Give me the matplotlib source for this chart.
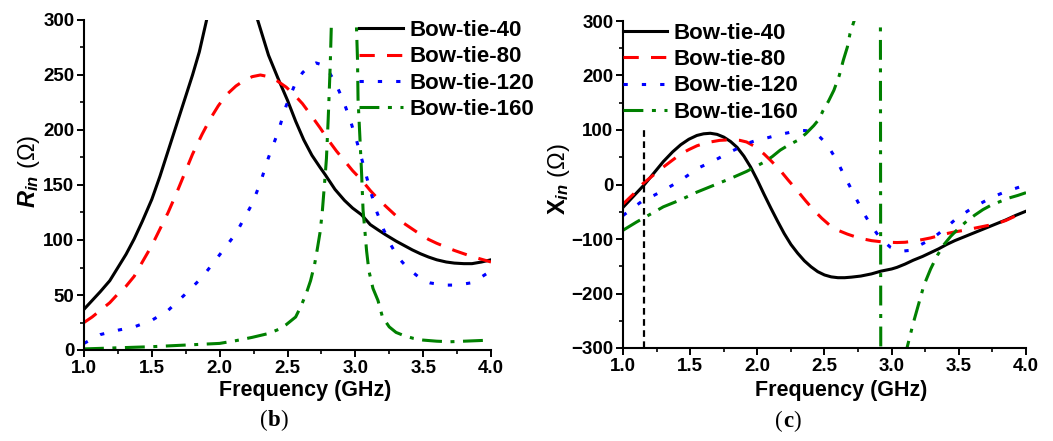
import matplotlib
matplotlib.use('Agg')
import matplotlib.pyplot as plt
from matplotlib.ticker import MultipleLocator
from matplotlib.offsetbox import TextArea, HPacker, AnchoredOffsetbox

plt.rcParams['font.family'] = 'Liberation Sans'
plt.rcParams['font.weight'] = 'bold'
plt.rcParams['axes.labelweight'] = 'bold'
plt.rcParams['mathtext.fontset'] = 'custom'
plt.rcParams['mathtext.rm'] = 'Liberation Sans'
plt.rcParams['mathtext.it'] = 'Liberation Sans:italic'
plt.rcParams['mathtext.bf'] = 'Liberation Sans:bold'
plt.rcParams['mathtext.bfit'] = 'Liberation Sans:italic:bold'

labels = ['Bow-tie-40', 'Bow-tie-80', 'Bow-tie-120', 'Bow-tie-160']

# ---- input resistance (b) ----
rin_f_40 = [1.0, 1.06, 1.12, 1.19, 1.25, 1.31, 1.37, 1.43, 1.5, 1.56, 1.62, 1.68, 1.74, 1.8, 1.85,
            1.9, 1.95, 2.0, 2.05, 2.1, 2.15, 2.2, 2.28, 2.36, 2.43, 2.5, 2.56, 2.62, 2.68, 2.74,
            2.78, 2.85, 2.92, 2.98, 3.045, 3.11, 3.17, 3.22, 3.3, 3.36, 3.42, 3.48, 3.54, 3.6,
            3.67, 3.73, 3.8, 3.86, 3.93, 4.0]
rin_40 = [37, 45, 53, 63, 75, 87, 101, 117, 137, 158, 181, 204, 227, 250, 271,
          298, 326, 352, 365, 367, 358, 334, 300, 268, 247, 227, 208, 191, 177, 166,
          159, 146, 136, 129, 123, 114, 109, 105, 99, 95, 91, 87.5, 84.5, 82,
          80, 79, 78.5, 78.5, 80, 82]

rin_f_80 = [1.0, 1.06, 1.12, 1.19, 1.25, 1.31, 1.37, 1.43, 1.5, 1.56, 1.62, 1.68, 1.74, 1.8, 1.87,
            1.93, 1.99, 2.05, 2.12, 2.18, 2.24, 2.3, 2.36, 2.42, 2.49, 2.55, 2.61, 2.67, 2.74,
            2.8, 2.86, 2.92, 2.98, 3.05, 3.11, 3.17, 3.23, 3.3, 3.36, 3.42, 3.48, 3.54, 3.6,
            3.67, 3.73, 3.8, 3.86, 3.93, 4.0]
rin_80 = [25, 30, 36, 43, 51, 58, 67, 80, 95, 110, 125, 142, 160, 178, 196,
          210, 222, 232, 240, 245, 248.5, 250, 248.5, 245, 239, 232, 224, 214, 202,
          191, 181, 172, 163, 154, 145, 137, 130, 122, 115, 110, 105, 100.5, 97,
          93.5, 90.5, 87.5, 85, 82.5, 80]

rin_f_120 = [1.0, 1.06, 1.12, 1.25, 1.37, 1.5, 1.62, 1.74, 1.87, 1.99, 2.12, 2.24, 2.3, 2.36,
             2.43, 2.49, 2.55, 2.61, 2.66, 2.71, 2.76, 2.81, 2.86, 2.91, 2.96, 3.01, 3.06,
             3.11, 3.16, 3.21, 3.26, 3.31, 3.36, 3.41, 3.46, 3.5, 3.55, 3.6, 3.67, 3.73,
             3.8, 3.85, 3.9, 3.95, 4.0]
rin_120 = [6, 10, 14, 18, 21, 27, 36, 50, 66, 85, 106, 133, 152, 175,
           198, 222, 240, 252, 258, 261, 259, 252, 241, 227, 210, 190, 168,
           145, 125, 109, 96, 85, 78, 72, 67, 63, 61, 60, 59, 59,
           60, 61, 64, 68, 72]

rin_f_160 = [1.0, 1.25, 1.5, 1.75, 2.0, 2.12, 2.24, 2.36, 2.44, 2.49, 2.56, 2.6, 2.64, 2.67,
             2.7, 2.72, 2.74, 2.756, 2.776, 2.787, 2.8, 2.815, 2.824, 2.85, 2.9, 2.95, 2.99,
             3.007, 3.016, 3.02, 3.033, 3.046, 3.057, 3.07, 3.083, 3.1, 3.13, 3.167, 3.2,
             3.25, 3.3, 3.36, 3.43, 3.5, 3.6, 3.7, 3.8, 3.9, 4.0]
rin_160 = [1, 2, 3, 4.5, 6, 8.5, 11.5, 15, 19, 23, 30, 40, 52, 63,
           78, 92, 107, 125, 156, 174, 210, 259, 299, 420, 850, 800, 420,
           299, 264, 228, 195, 161, 127, 109, 90, 72, 56, 45, 30,
           21, 16, 13, 10.5, 9, 8, 7.5, 8, 8.5, 9]

# ---- input reactance (c) ----
xin_f_40 = [1.0, 1.08, 1.16, 1.23, 1.3, 1.37, 1.43, 1.49, 1.55, 1.6, 1.65, 1.7, 1.75, 1.8, 1.85,
            1.9, 1.95, 2.0, 2.05, 2.1, 2.15, 2.2, 2.25, 2.3, 2.35, 2.4, 2.45, 2.5, 2.55, 2.6,
            2.65, 2.7, 2.77, 2.85, 2.92, 3.0, 3.04, 3.1, 3.16, 3.23, 3.29, 3.35, 3.41, 3.47,
            3.54, 3.6, 3.66, 3.72, 3.78, 3.85, 3.92, 4.0]
xin_40 = [-42, -21, 0, 21, 42, 60, 73, 83, 90, 93, 94, 92, 87, 79, 68,
          52, 32, 8, -18, -43, -67, -90, -110, -126, -140, -151, -160, -166, -169.5, -171,
          -171, -170, -168, -164, -159, -155, -152, -146, -139, -132, -125, -118, -110, -103,
          -96, -90, -84, -78, -72, -65, -57, -49]

xin_f_80 = [1.0, 1.08, 1.15, 1.23, 1.3, 1.37, 1.43, 1.49, 1.55, 1.6, 1.65, 1.72, 1.8, 1.87,
            1.92, 1.98, 2.05, 2.1, 2.17, 2.23, 2.3, 2.36, 2.42, 2.48, 2.54, 2.6, 2.67, 2.73,
            2.79, 2.85, 2.92, 2.98, 3.04, 3.1, 3.16, 3.23, 3.29, 3.35, 3.41, 3.47, 3.54, 3.6,
            3.66, 3.72, 3.78, 3.85, 3.92, 4.0]
xin_80 = [-36, -17, 2, 18, 32, 45, 56, 64, 71, 75, 78, 81, 82, 81,
          78, 70, 56, 44, 26, 8, -12, -30, -47, -62, -75, -84, -91, -96,
          -100, -103, -105, -106, -106.5, -106, -104, -101, -98, -94, -90, -87, -84, -81,
          -78, -75, -72, -66, -58, -50]

xin_f_120 = [1.0, 1.08, 1.15, 1.23, 1.3, 1.37, 1.43, 1.49, 1.55, 1.61, 1.68, 1.74, 1.8, 1.86,
             1.92, 1.98, 2.05, 2.11, 2.17, 2.23, 2.3, 2.35, 2.4, 2.45, 2.49, 2.54, 2.59, 2.64,
             2.69, 2.74, 2.79, 2.84, 2.89, 2.94, 2.99, 3.04, 3.09, 3.13, 3.16, 3.22, 3.29,
             3.35, 3.41, 3.47, 3.54, 3.6, 3.66, 3.72, 3.78, 3.84, 3.91, 3.96, 4.0]
xin_120 = [-57, -42, -29, -20, -11, -1, 8, 18, 29, 36, 44, 52, 60, 67,
           75, 80, 84, 88, 92, 95, 99, 99, 98, 91, 81, 65, 45, 20,
           -4, -28, -52, -72, -90, -104, -115, -120, -122, -121, -118, -110, -101,
           -90, -78, -65, -53, -43, -35, -27, -20, -14, -8, -4, -2]

xin_f_160 = [1.0, 1.1, 1.2, 1.3, 1.43, 1.55, 1.68, 1.8, 1.92, 2.05, 2.11, 2.17, 2.23, 2.3,
             2.36, 2.42, 2.46, 2.49, 2.53, 2.57, 2.61, 2.64, 2.67, 2.69, 2.72, 2.76, 2.82,
             2.87, 2.905, 2.93, 2.98, 3.05, 3.114, 3.16, 3.2, 3.24, 3.29, 3.34, 3.39, 3.44,
             3.5, 3.56, 3.62, 3.68, 3.74, 3.8, 3.87, 3.94, 4.0]
xin_160 = [-84, -69, -55, -41, -28, -14, -1, 11, 24, 41, 51, 63, 72, 81,
           93, 108, 120, 136, 153, 173, 200, 228, 252, 277, 300, 345, 480,
           900, 3000, -3000, -900, -450, -300, -255, -220, -185, -155, -130, -110, -95,
           -80, -67, -56, -46, -38, -32, -25, -20, -15]

# frequency where X_in of Bow-tie-40 crosses zero
marker_f = 1.16
marker_x = [-300, 100]

colors = ['black', 'red', 'blue', 'green']
styles = ['-', (0, (5, 4)), (0, (1.4, 4.6)), (0, (6.5, 2.8, 1.3, 2.8))]

fig = plt.figure(figsize=(10.53, 4.41), dpi=100)
ax1 = fig.add_axes([84 / 1053, 1 - 350 / 441, 407 / 1053, 330 / 441])
ax2 = fig.add_axes([623 / 1053, 1 - 348 / 441, 403 / 1053, 327 / 441])

rin = [(rin_f_40, rin_40), (rin_f_80, rin_80), (rin_f_120, rin_120), (rin_f_160, rin_160)]
xin = [(xin_f_40, xin_40), (xin_f_80, xin_80), (xin_f_120, xin_120), (xin_f_160, xin_160)]

for (f, v), c, ls, lab in zip(rin, colors, styles, labels):
    ax1.plot(f, v, color=c, linestyle=ls, lw=2.2, label=lab)
for (f, v), c, ls, lab in zip(xin, colors, styles, labels):
    ax2.plot(f, v, color=c, linestyle=ls, lw=2.2, label=lab)
ax2.plot([marker_f, marker_f], marker_x, color='black', linestyle=(0, (3, 2)), lw=1.6)

ax1.set_ylim(0, 300)
ax1.yaxis.set_major_locator(MultipleLocator(50))
ax1.yaxis.set_minor_locator(MultipleLocator(25))
ax2.set_ylim(-300, 300)
ax2.yaxis.set_major_locator(MultipleLocator(100))
ax2.yaxis.set_minor_locator(MultipleLocator(50))

for ax in (ax1, ax2):
    ax.set_xlim(1, 4)
    ax.xaxis.set_major_locator(MultipleLocator(0.5))
    ax.xaxis.set_minor_locator(MultipleLocator(0.25))
    for s in ['top', 'right']:
        ax.spines[s].set_visible(False)
    for s in ['left', 'bottom']:
        ax.spines[s].set_linewidth(1.5)
    ax.tick_params(which='major', direction='out', length=5, width=1.4, labelsize=13.5, pad=2)
    ax.tick_params(which='minor', direction='out', length=3, width=1.2)
    for t in ax.get_xticklabels() + ax.get_yticklabels():
        t.set_fontweight('bold')
    ax.set_xlabel('Frequency (GHz)', fontsize=15.5, fontweight='bold')

ax1.set_ylabel(r'$\mathbfit{R}_{in}$ (Ω)', fontsize=17, fontweight='normal')
ax2.set_ylabel(r'$\mathbf{X}_{in}$ (Ω)', fontsize=17, fontweight='normal')
ax1.yaxis.set_label_coords(-0.104, 0.54)
ax2.yaxis.set_label_coords(-0.127, 0.517)
ax1.xaxis.set_label_coords(0.543, -0.09)
ax2.xaxis.set_label_coords(0.541, -0.097)

legend_opts = dict(loc='upper left', frameon=False, fontsize=16, handlelength=2.0,
                   handletextpad=0.27, labelspacing=0.24, borderpad=0, borderaxespad=0)
ax1.legend(bbox_to_anchor=(0.675, 1.0), **legend_opts)
ax2.legend(bbox_to_anchor=(0.0, 0.995), **legend_opts)


def caption(letter, x, y):
    serif = 'Liberation Serif'
    parts = [TextArea('(', textprops=dict(family=serif, size=16.5, weight='normal')),
             TextArea(letter, textprops=dict(family=serif, size=16.5, weight='bold')),
             TextArea(')', textprops=dict(family=serif, size=16.5, weight='normal'))]
    box = HPacker(children=parts, align='baseline', pad=0, sep=0)
    anchored = AnchoredOffsetbox(loc='center', child=box, pad=0, borderpad=0, frameon=False,
                                 bbox_to_anchor=(x, y), bbox_transform=fig.transFigure)
    fig.add_artist(anchored)


caption('b', 274 / 1053, 1 - 420 / 441)
caption('c', 788 / 1053, 1 - 421 / 441)

fig.savefig('out.png', dpi=100)
